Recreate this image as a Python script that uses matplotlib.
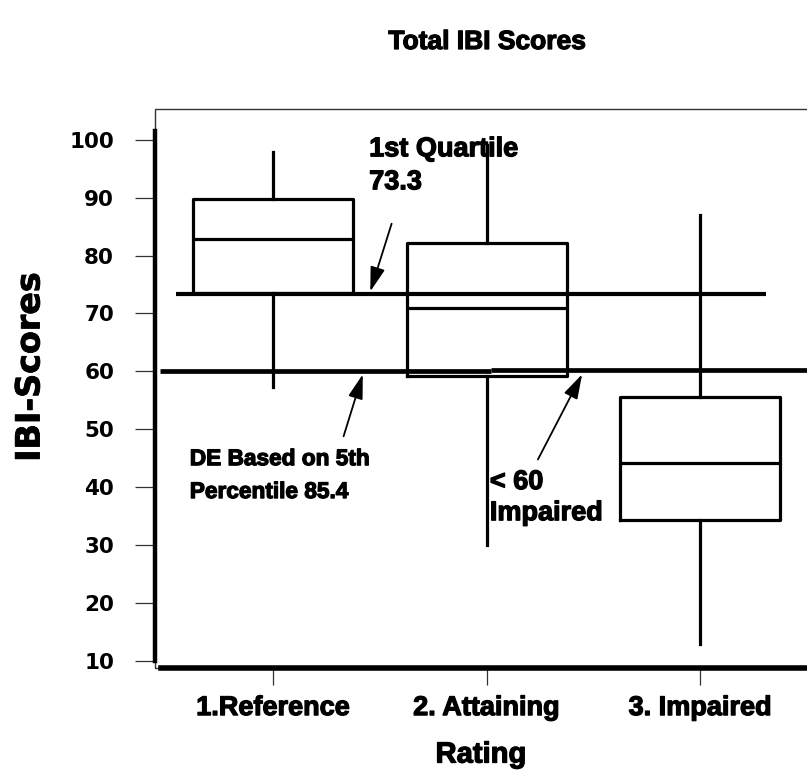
import matplotlib.pyplot as plt
import matplotlib.patheffects as pe
from matplotlib.patches import Rectangle

# data
categories = ["1.Reference", "2. Attaining", "3. Impaired"]
whislo = [57.3, 30.0, 13.0]
q1 = [73.5, 59.2, 34.4]
med = [82.8, 71.0, 44.2]
q3 = [89.8, 82.2, 55.6]
whishi = [97.9, 99.0, 87.0]

quartile_line = 73.3
impaired_line = 60.0
yticks = [10, 20, 30, 40, 50, 60, 70, 80, 90, 100]

FONT = ["Liberation Sans Narrow", "Liberation Sans", "DejaVu Sans"]
WIDE = ["DejaVu Sans"]
heavy = [pe.withStroke(linewidth=0.9, foreground="black")]

fig = plt.figure(figsize=(8.07, 7.82), dpi=100)
W, H = 807, 782
ax = fig.add_axes([155 / W, 1 - 668 / H, (807 - 155) / W, (668 - 109) / H])

stats = []
for i, cat in enumerate(categories):
    stats.append(dict(label=cat, whislo=whislo[i], q1=q1[i], med=med[i],
                      q3=q3[i], whishi=whishi[i], fliers=[]))

lw = 2.3
ax.bxp(stats, positions=[1, 2, 3], widths=0.75, showcaps=False,
       showfliers=False,
       boxprops=dict(color="black", linewidth=lw),
       medianprops=dict(color="black", linewidth=lw),
       whiskerprops=dict(color="black", linewidth=lw))

# reference lines
ax.hlines(quartile_line, 0.546, 3.31, color="black", linewidth=3.0, zorder=3)
ax.hlines(impaired_line, 0.47, 2.02, color="black", linewidth=3.4, zorder=3)
ax.hlines(impaired_line + 0.3, 2.02, 3.6, color="black", linewidth=3.4,
          zorder=3)

ax.set_xlim(0.447, 3.5)
ax.set_ylim(8.8, 105.3)

# axis styling: thick partial spines plus a thin outer frame
for side in ["top", "right"]:
    ax.spines[side].set_visible(False)
ax.spines["left"].set_linewidth(3.2)
ax.spines["left"].set_bounds(10, 101.5)
ax.spines["bottom"].set_linewidth(4.0)
ax.spines["bottom"].set_bounds(0.475, 3.5)
ax.add_patch(Rectangle((0, 0), 1.2, 1, transform=ax.transAxes, fill=False,
                       linewidth=1.0, edgecolor="#333333", clip_on=False,
                       zorder=0))

ax.set_yticks(yticks)
ax.set_yticklabels([str(v) for v in yticks], fontsize=15.5,
                   fontweight="bold", family=WIDE)
ax.tick_params(axis="y", length=14.5, width=0.9, pad=15, color="#333333")
ax.set_xticks([1, 2, 3])
ax.set_xticklabels(categories, fontsize=19.5, fontweight="bold", family=FONT)
ax.tick_params(axis="x", length=12.5, width=0.9, pad=7, color="#333333")
for lab in ax.get_xticklabels():
    lab.set_path_effects(heavy)

ax.set_xlabel("Rating", fontsize=21, fontweight="bold", family=FONT,
              labelpad=14, path_effects=heavy)
fig.text(30 / W, 1 - 367 / H, "IBI-Scores", rotation=90, fontsize=24,
         fontweight="bold", family=WIDE, ha="center", va="center",
         path_effects=[pe.withStroke(linewidth=0.6, foreground="black")])
fig.text(487 / W, 1 - 42 / H, "Total IBI Scores", fontsize=19,
         fontweight="bold", family=FONT, ha="center", va="center",
         path_effects=heavy)

# annotations
txt = dict(fontweight="bold", family=FONT, color="black", path_effects=heavy)
arrow = dict(arrowstyle="-|>,head_length=1.5,head_width=0.45", color="black",
             linewidth=1.3, shrinkA=0, shrinkB=0)
ax.text(1.45, 95.5, "1st Quartile\n73.3", ha="left", va="center",
        fontsize=19.5, linespacing=1.35, **txt)
ax.annotate("", xy=(1.455, 73.8), xytext=(1.555, 85.5), arrowprops=arrow)
ax.text(0.61, 42.1, "DE Based on 5th\nPercentile 85.4", ha="left",
        va="center", fontsize=16.3, linespacing=1.55, **txt)
ax.annotate("", xy=(1.42, 59.5), xytext=(1.33, 48.8), arrowprops=arrow)
ax.text(2.015, 38.2, "< 60\nImpaired", ha="left", va="center",
        fontsize=19.5, linespacing=1.25, **txt)
ax.annotate("", xy=(2.447, 59.5), xytext=(2.24, 44.8), arrowprops=arrow)

fig.savefig("out.png", dpi=100)
